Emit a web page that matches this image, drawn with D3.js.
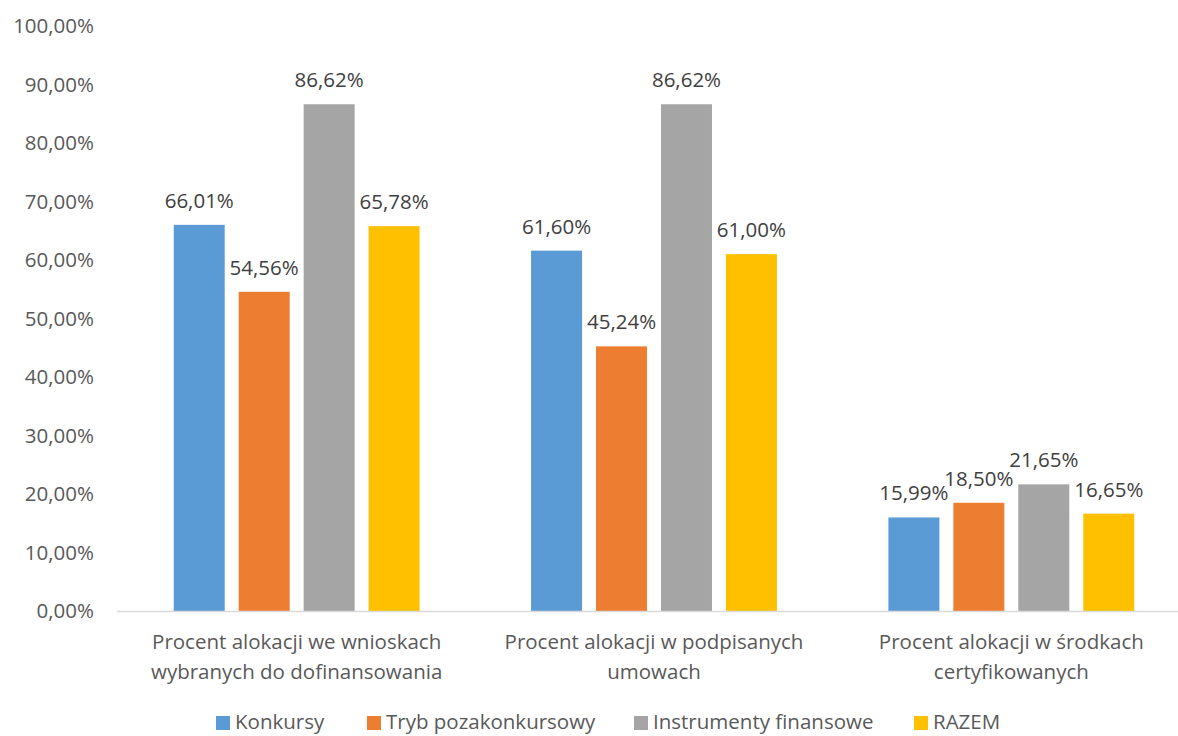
<!DOCTYPE html>
<html><head><meta charset="utf-8">
<script src="https://cdn.jsdelivr.net/npm/d3@7"></script>
<style>body{margin:0;background:#fff;}svg{display:block;}</style>
</head><body>
<svg id="c" width="1178" height="736"></svg>
<script>
const categories = [
  ["Procent alokacji we wnioskach", "wybranych do dofinansowania"],
  ["Procent alokacji w podpisanych", "umowach"],
  ["Procent alokacji w środkach", "certyfikowanych"]
];
const seriesNames = ["Konkursy", "Tryb pozakonkursowy", "Instrumenty finansowe", "RAZEM"];
const seriesColors = ["#5B9BD5", "#ED7D31", "#A5A5A5", "#FFC000"];
const konkursy = [66.01, 61.60, 15.99];
const trybPozakonkursowy = [54.56, 45.24, 18.50];
const instrumentyFinansowe = [86.62, 86.62, 21.65];
const razem = [65.78, 61.00, 16.65];
const yTicks = [0,10,20,30,40,50,60,70,80,90,100];

const series = [konkursy, trybPozakonkursowy, instrumentyFinansowe, razem];
const font = "'Open Sans', 'Noto Sans', sans-serif";
const svg = d3.select("#c");
const fmt = v => v.toFixed(2).replace(".", ",") + "%";

const y = d3.scaleLinear().domain([0,100]).range([611, 26]);
const x0 = d3.scaleBand().domain(d3.range(categories.length)).range([118, 1190]).paddingInner(0).paddingOuter(0);
const x1 = d3.scaleBand().domain(d3.range(series.length)).range([0, x0.bandwidth()]).paddingInner(0.215).paddingOuter(0.858);

// y axis labels
const yAxis = d3.axisLeft(y).tickValues(yTicks).tickSize(0).tickPadding(0).tickFormat(d => d.toFixed(2).replace(".", ",") + "%");
const ya = svg.append("g").attr("transform", "translate(94,0)").call(yAxis);
ya.select(".domain").remove();
ya.selectAll("text").attr("font-family", font).attr("font-size", 20.5).attr("fill", "#595959");

// bars
series.forEach((vals, si) => {
  svg.append("g").selectAll("rect").data(vals).join("rect")
    .attr("x", (d, i) => x0(i) + x1(si))
    .attr("y", d => y(d))
    .attr("width", x1.bandwidth())
    .attr("height", d => y(0) - y(d))
    .attr("fill", seriesColors[si]);
});

// x axis line
svg.append("line").attr("x1", 117).attr("x2", 1178).attr("y1", y(0) + 0.5).attr("y2", y(0) + 0.5)
  .attr("stroke", "#D9D9D9").attr("stroke-width", 1.5);

// data labels
series.forEach((vals, si) => {
  svg.append("g").selectAll("text").data(vals).join("text")
    .attr("x", (d, i) => x0(i) + x1(si) + x1.bandwidth() / 2)
    .attr("y", d => y(d) - 17)
    .attr("text-anchor", "middle")
    .attr("font-family", font).attr("font-size", 20.5).attr("fill", "#404040")
    .text(d => fmt(d));
});

// category labels
categories.forEach((lines, i) => {
  const t = svg.append("text").attr("text-anchor", "middle")
    .attr("font-family", font).attr("font-size", 20.5).attr("fill", "#595959");
  lines.forEach((l, j) => {
    t.append("tspan").attr("x", x0(i) + x0.bandwidth() / 2).attr("y", 649 + j * 30).text(l);
  });
});

// legend
const legendX = [216, 367, 634, 914];
const lg = svg.append("g");
seriesNames.forEach((n, i) => {
  lg.append("rect").attr("x", legendX[i]).attr("y", 716).attr("width", 14).attr("height", 14).attr("fill", seriesColors[i]);
  lg.append("text").attr("x", legendX[i] + 19).attr("y", 729)
    .attr("font-family", font).attr("font-size", 20.5).attr("fill", "#595959").text(n);
});
</script>
</body></html>
